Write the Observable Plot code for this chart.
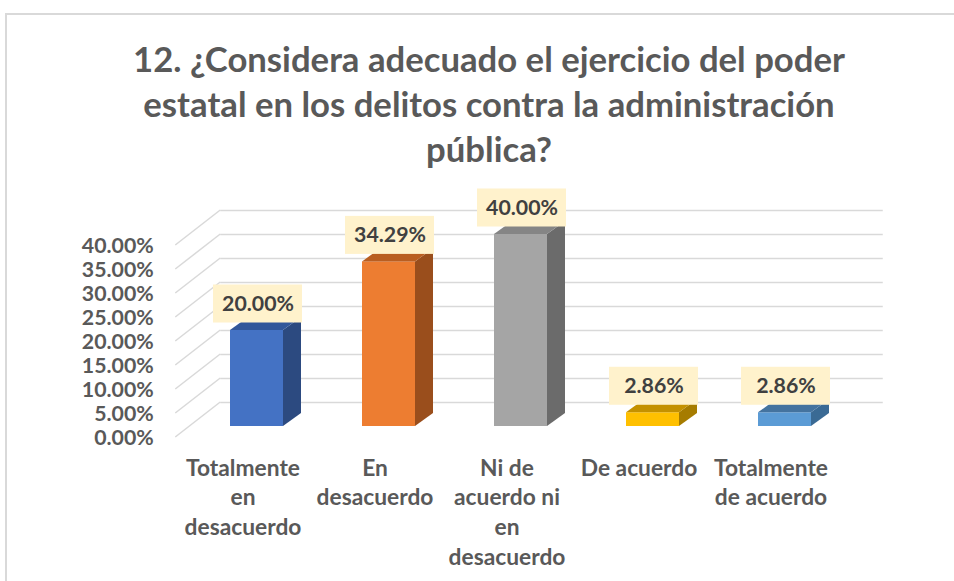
<!DOCTYPE html>
<html><head><meta charset="utf-8">
<script src="https://cdn.jsdelivr.net/npm/d3@7"></script>
<script src="https://cdn.jsdelivr.net/npm/@observablehq/plot@0.6"></script>
<style>
html,body{margin:0;padding:0;background:#fff;}
body{width:954px;height:581px;overflow:hidden;position:relative;font-family:Lato,sans-serif;}
#frame{position:absolute;left:5px;top:13px;width:1000px;height:700px;border-left:2px solid #d9d9d9;border-top:2px solid #d9d9d9;}
#title{position:absolute;left:0;width:978px;top:36px;margin:0;text-align:center;font-weight:bold;color:#595959;line-height:45px;white-space:nowrap;}
#plot{position:absolute;left:0;top:180px;}
</style></head><body>
<div id="frame"></div>
<h2 id="title"></h2>
<div id="plot"></div>
<script>
// ---- data ----
const titleLines = ["12. ¿Considera adecuado el ejercicio del poder", "estatal en los delitos contra la administración", "pública?"];
const categories = ["Totalmente en desacuerdo", "En desacuerdo", "Ni de acuerdo ni en desacuerdo", "De acuerdo", "Totalmente de acuerdo"];
const categoryLabels = ["Totalmente\nen\ndesacuerdo", "En\ndesacuerdo", "Ni de\nacuerdo ni\nen\ndesacuerdo", "De acuerdo", "Totalmente\nde acuerdo"];
const percentages = [20.00, 34.29, 40.00, 2.86, 2.86];
const valueLabels = ["20.00%", "34.29%", "40.00%", "2.86%", "2.86%"];
const yTicks = [0, 5, 10, 15, 20, 25, 30, 35, 40];
const yTickLabels = ["0.00%", "5.00%", "10.00%", "15.00%", "20.00%", "25.00%", "30.00%", "35.00%", "40.00%"];

// ---- styles ----
const FONT = "Lato";
const frontColors = ["#4472C4", "#ED7D31", "#A5A5A5", "#FFC000", "#5B9BD5"];
const sideColors  = ["#2C4A80", "#9A4E1C", "#6B6B6B", "#A67C00", "#3A6A94"];
const topColors   = ["#32579A", "#B95E21", "#858585", "#C49100", "#44739F"];
const GRID = "#d9d9d9";
const DEPTH = {dx: 18, dy: 13};   // bar depth
const FRONT = {dx: -14, dy: 11};  // front plane offset
const BACK = {dx: 31, dy: -24};   // back wall offset

function fitSize(str, target) {
  const ctx = document.createElement("canvas").getContext("2d");
  ctx.font = `bold 100px ${FONT}`;
  return 100 * target / ctx.measureText(str).width;
}
const titleSize = fitSize(titleLines[0], 712);
const axisSize = fitSize("40.00%", 72);
const catSize = fitSize("Totalmente", 114);

const title = document.getElementById("title");
title.style.fontSize = titleSize + "px";
title.style.fontFamily = FONT;
titleLines.forEach((l, i) => { if (i) title.appendChild(document.createElement("br")); title.appendChild(document.createTextNode(l)); });

const data = categories.map((c, i) => ({category: c, value: percentages[i], label: valueLabels[i], tick: categoryLabels[i], i}));

function gridDiagonals(index, scales, values, dimensions) {
  const y = scales.y, x0 = dimensions.marginLeft;
  const g = d3.create("svg:g").attr("stroke", GRID).attr("stroke-width", 1.5);
  yTicks.forEach(t => g.append("line")
    .attr("x1", x0 + FRONT.dx).attr("y1", y(t) + FRONT.dy)
    .attr("x2", x0 + BACK.dx).attr("y2", y(t) + BACK.dy));
  return g.node();
}

function barFaces(index, scales) {
  const x = scales.x, y = scales.y;
  const bw = typeof x.bandwidth === "function" ? x.bandwidth() : x.bandwidth;
  const g = d3.create("svg:g");
  data.forEach(d => {
    const x1 = x(d.category), x2 = x1 + bw, yt = y(d.value), yb = y(0);
    g.append("path")
      .attr("d", `M${x2},${yb}L${x2 + DEPTH.dx},${yb - DEPTH.dy}L${x2 + DEPTH.dx},${yt - DEPTH.dy}L${x2},${yt}Z`)
      .attr("fill", sideColors[d.i]);
    g.append("path")
      .attr("d", `M${x1},${yt}L${x1 + DEPTH.dx},${yt - DEPTH.dy}L${x2 + DEPTH.dx},${yt - DEPTH.dy}L${x2},${yt}Z`)
      .attr("fill", topColors[d.i]);
  });
  return g.node();
}

const chart = Plot.plot({
  width: 954,
  height: 401,
  marginLeft: 189.25,
  marginRight: 102.25,
  marginTop: 54,
  marginBottom: 155,
  x: {domain: categories, paddingInner: 0.6, paddingOuter: 0.3, axis: null},
  y: {domain: [0, 40], axis: null},
  color: {domain: categories, range: frontColors},
  style: {fontFamily: FONT, background: "transparent", overflow: "visible"},
  marks: [
    Plot.ruleY(yTicks, {y: d => d, dx: BACK.dx, dy: BACK.dy, stroke: GRID, strokeWidth: 1.5}),
    gridDiagonals,
    Plot.barY(data, {x: "category", y: "value", fill: "category"}),
    barFaces,
    Plot.barY(data, {x: "category", y1: "value", y2: "value", fill: "#FFF2CC",
      insetLeft: -18, insetRight: -18, insetTop: -19, insetBottom: -19, dx: 1, dy: -26.5}),
    Plot.text(data, {x: "category", y: "value", text: "label", dx: 1, dy: -26.5,
      fill: "#404040", fontSize: axisSize, fontWeight: "bold"}),
    Plot.text(yTicks, {y: d => d, text: (d, i) => yTickLabels[i], frameAnchor: "left", textAnchor: "end",
      dx: -36, dy: 12, fill: "#595959", fontSize: axisSize, fontWeight: "bold"}),
    Plot.text(data, {x: "category", text: "tick", frameAnchor: "bottom", lineAnchor: "top",
      dx: -14, dy: 28, lineHeight: 29.7 / catSize, fill: "#595959", fontSize: catSize, fontWeight: "bold"})
  ]
});
document.getElementById("plot").appendChild(chart);
</script>
</body></html>
